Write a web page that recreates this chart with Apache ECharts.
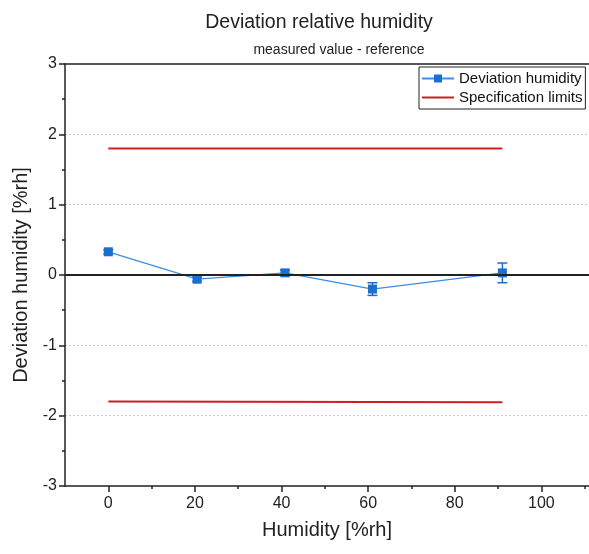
<!DOCTYPE html>
<html>
<head>
<meta charset="utf-8">
<script src="https://cdn.jsdelivr.net/npm/echarts@6/dist/echarts.min.js"></script>
<style>
html, body { margin: 0; padding: 0; background: #fff; }
#chart { width: 589px; height: 554px; }
</style>
</head>
<body>
<div id="chart"></div>
<script>
var humidity = [0, 20.5, 40.8, 61, 91];
var deviation = [0.33, -0.06, 0.03, -0.2, 0.03];
var deviationErr = [0.03, 0.03, 0.04, 0.09, 0.14];
var limitX = [0, 91];
var upperLimit = [1.8, 1.8];
var lowerLimit = [-1.8, -1.81];
var xMajorTicks = [0, 20, 40, 60, 80, 100];
var xMinorTicks = [10, 30, 50, 70, 90, 110];

var font = 'Liberation Sans, Arial, sans-serif';
var blue = '#1a6fd0';

function pairs(xs, ys) {
	var out = [];
	for (var i = 0; i < xs.length; i++) {
		out.push([xs[i], ys[i]]);
	}
	return out;
}

var errData = [];
for (var i = 0; i < humidity.length; i++) {
	errData.push([humidity[i], deviation[i] - deviationErr[i], deviation[i] + deviationErr[i]]);
}

var chart = echarts.init(document.getElementById('chart'));

chart.setOption({
	animation : false,
	textStyle : { fontFamily : font },
	title : [ {
		text : 'Deviation relative humidity',
		left : 314,
		textAlign : 'center',
		top : 8,
		textStyle : { fontSize : 19.5, fontWeight : 'normal', color : '#222', fontFamily : font }
	}, {
		text : 'measured value - reference',
		left : 334,
		textAlign : 'center',
		top : 38,
		textStyle : { fontSize : 14, fontWeight : 'normal', color : '#222', fontFamily : font }
	} ],
	legend : {
		left : 419,
		top : 67,
		orient : 'vertical',
		itemGap : 4,
		itemWidth : 32,
		itemHeight : 10,
		padding : [4, 3, 4, 2],
		borderColor : '#222',
		borderWidth : 1,
		borderRadius : 0,
		backgroundColor : '#fff',
		textStyle : { fontSize : 15, color : '#111', fontFamily : font },
		data : [ 'Deviation humidity', {
			name : 'Specification limits',
			itemStyle : { opacity : 0 }
		} ]
	},
	grid : {
		left : 65,
		right : 0,
		top : 64,
		bottom : 68
	},
	xAxis : [ {
		type : 'value',
		min : -10,
		max : 111,
		interval : 10,
		name : 'Humidity [%rh]',
		nameLocation : 'middle',
		nameGap : 34,
		nameTextStyle : { fontSize : 20, color : '#222', fontFamily : font },
		axisLine : { onZero : false, lineStyle : { color : '#222', width : 1.5 } },
		axisTick : { customValues : xMajorTicks, length : 6, lineStyle : { color : '#222', width : 1.5 } },
		axisLabel : { customValues : xMajorTicks, fontSize : 16, color : '#222', margin : 10 },
		splitLine : { show : false }
	}, {
		type : 'value',
		position : 'bottom',
		min : -10,
		max : 111,
		interval : 10,
		axisLine : { show : false, onZero : false },
		axisTick : { customValues : xMinorTicks, length : 3, lineStyle : { color : '#222', width : 1.5 } },
		axisLabel : { show : false },
		splitLine : { show : false }
	}, {
		type : 'value',
		position : 'top',
		min : -10,
		max : 111,
		axisLine : { onZero : false, lineStyle : { color : '#222', width : 1.5 } },
		axisTick : { show : false },
		axisLabel : { show : false },
		splitLine : { show : false }
	} ],
	yAxis : [ {
		type : 'value',
		min : -3,
		max : 3,
		interval : 1,
		name : 'Deviation humidity [%rh]',
		nameLocation : 'middle',
		nameGap : 34,
		nameTextStyle : { fontSize : 20, color : '#222', fontFamily : font },
		axisLine : { onZero : false, lineStyle : { color : '#222', width : 1.5 } },
		axisTick : { length : 6, lineStyle : { color : '#222', width : 1.5 } },
		minorTick : { show : true, splitNumber : 2, length : 3, lineStyle : { color : '#222', width : 1.5 } },
		axisLabel : { fontSize : 16, color : '#222', margin : 8 },
		splitLine : {
			show : true,
			lineStyle : {
				color : [ 'rgba(0,0,0,0)', '#c8c8c8', '#c8c8c8', 'rgba(0,0,0,0)', '#c8c8c8', '#c8c8c8', 'rgba(0,0,0,0)' ],
				type : [2, 2],
				width : 1
			}
		}
	} ],
	series : [ {
		name : 'Specification limits',
		type : 'line',
		data : pairs(limitX, upperLimit),
		symbol : 'none',
		lineStyle : { color : '#cc2020', width : 2 },
		itemStyle : { color : '#cc2020' },
		markLine : {
			silent : true,
			symbol : 'none',
			label : { show : false },
			lineStyle : { color : '#222', width : 2, type : 'solid' },
			data : [ { yAxis : 0 } ]
		}
	}, {
		name : 'Specification limits',
		type : 'line',
		data : pairs(limitX, lowerLimit),
		symbol : 'none',
		lineStyle : { color : '#cc2020', width : 2 },
		itemStyle : { color : '#cc2020' }
	}, {
		name : 'error bars',
		type : 'custom',
		data : errData,
		z : 3,
		renderItem : function(params, api) {
			var x = api.value(0);
			var lo = api.coord([x, api.value(1)]);
			var hi = api.coord([x, api.value(2)]);
			var w = 5;
			var style = { stroke : blue, lineWidth : 1.5 };
			return {
				type : 'group',
				children : [
					{ type : 'line', shape : { x1 : lo[0], y1 : lo[1], x2 : hi[0], y2 : hi[1] }, style : style },
					{ type : 'line', shape : { x1 : lo[0] - w, y1 : lo[1], x2 : lo[0] + w, y2 : lo[1] }, style : style },
					{ type : 'line', shape : { x1 : hi[0] - w, y1 : hi[1], x2 : hi[0] + w, y2 : hi[1] }, style : style }
				]
			};
		}
	}, {
		name : 'Deviation humidity',
		type : 'line',
		data : pairs(humidity, deviation),
		symbol : 'rect',
		symbolSize : 9,
		z : 4,
		lineStyle : { color : '#3a8ee6', width : 1.3 },
		itemStyle : { color : blue }
	} ]
});
</script>
</body>
</html>
